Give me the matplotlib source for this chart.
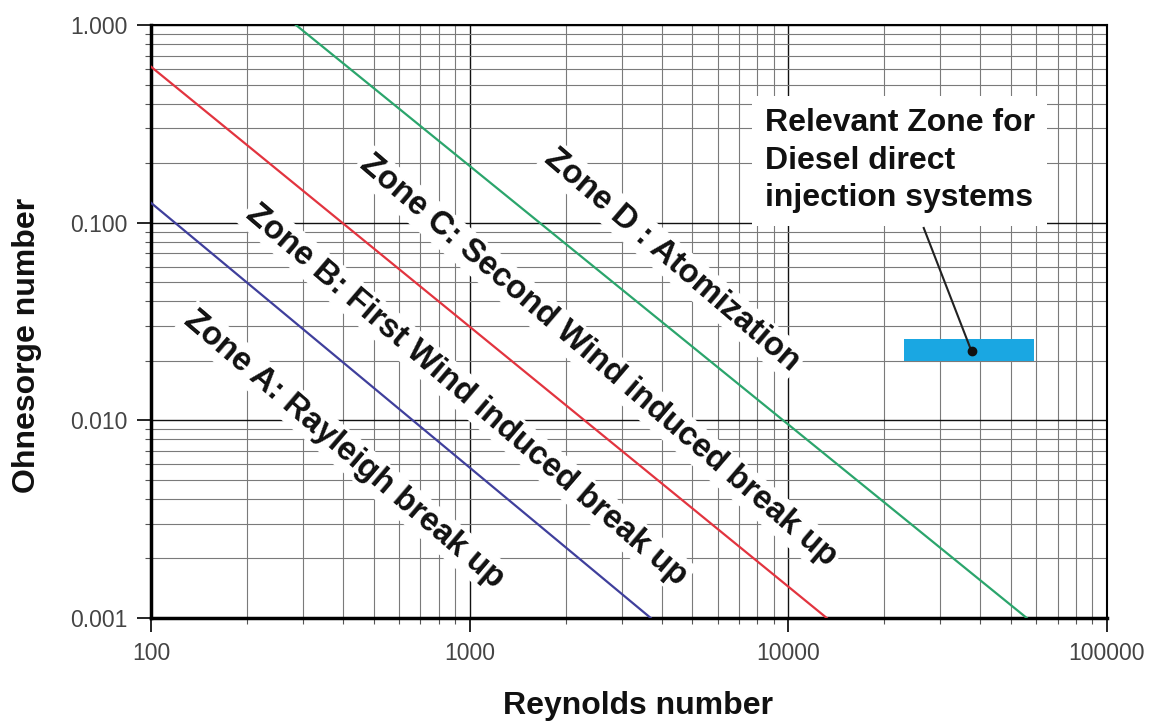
import numpy as np
import matplotlib
matplotlib.use("Agg")
import matplotlib.pyplot as plt
from matplotlib.ticker import LogLocator, NullFormatter

plt.rcParams['font.family'] = ['Liberation Sans', 'DejaVu Sans']

## Boundary lines between the break-up zones (end points)
re_a = [100, 3700]
oh_a = [0.126, 0.001]
re_b = [100, 13200]
oh_b = [0.615, 0.001]
re_c = [285, 56000]
oh_c = [1.0, 0.001]

## Diesel injection zone (box) and pointer
diesel_re = [23000, 59000]
diesel_oh = [0.0199, 0.0257]
pointer_from = (26600, 0.094)
pointer_to = (37600, 0.0223)

x_ticks = [100, 1000, 10000, 100000]
x_labels = ['100', '1000', '10000', '100000']
y_ticks = [0.001, 0.01, 0.1, 1.0]
y_labels = ['0.001', '0.010', '0.100', '1.000']

zone_labels = ['Zone A: Rayleigh break up',
               'Zone B: First Wind induced break up',
               'Zone C: Second Wind induced break up',
               'Zone D : Atomization']
zone_re = [403, 980, 2527, 4313]
zone_oh = [0.00716, 0.01345, 0.020, 0.0648]

fig = plt.figure(figsize=(11.6, 7.24), dpi=100)
ax = fig.add_axes([151/1160, 1-618/724, (1107-151)/1160, (618-25)/724])
ax.set_xscale('log')
ax.set_yscale('log')
ax.set_xlim(100, 100000)
ax.set_ylim(0.001, 1.0)

# grid
ax.xaxis.set_minor_locator(LogLocator(base=10, subs=np.arange(2, 10)))
ax.yaxis.set_minor_locator(LogLocator(base=10, subs=np.arange(2, 10)))
ax.xaxis.set_minor_formatter(NullFormatter())
ax.yaxis.set_minor_formatter(NullFormatter())
ax.grid(which='major', color='#111111', lw=1.0, zorder=0)
ax.grid(which='minor', color='#7a7a7a', lw=0.8, zorder=0)
ax.set_axisbelow(True)

ax.set_xticks(x_ticks)
ax.set_xticklabels(x_labels)
ax.set_yticks(y_ticks)
ax.set_yticklabels(y_labels)
ax.tick_params(which='major', direction='out', length=10, width=1.2,
               labelsize=16.5, labelcolor='#444444', pad=7)
ax.tick_params(which='minor', direction='out', length=4, width=0.8, color='#555555')

for side in ['left', 'bottom']:
    ax.spines[side].set_linewidth(2.5)
for side in ['top', 'right']:
    ax.spines[side].set_linewidth(1.5)

# zone boundaries
ax.plot(re_a, oh_a, color='#3f3f9c', lw=1.6, zorder=4)
ax.plot(re_b, oh_b, color='#e2343f', lw=1.6, zorder=4)
ax.plot(re_c, oh_c, color='#2ba56c', lw=1.6, zorder=4)

# zone labels
for lab, xr, yo in zip(zone_labels, zone_re, zone_oh):
    ax.text(xr, yo, lab, rotation=-40.5, rotation_mode='anchor',
            ha='center', va='center', fontsize=23.5, fontweight='bold',
            color='#111111', zorder=3,
            bbox=dict(facecolor='white', edgecolor='none', pad=2))

# diesel injection zone
ax.fill_between(diesel_re, diesel_oh[0], diesel_oh[1], color='#1aa7e2',
                lw=0, zorder=5)
ax.text(0.642, 0.86, 'Relevant Zone for\nDiesel direct\ninjection systems',
        transform=ax.transAxes, ha='left', va='top', fontsize=23,
        fontweight='bold', color='#111111', linespacing=1.33, zorder=3,
        bbox=dict(facecolor='white', edgecolor='none', pad=9))
ax.plot([pointer_from[0], pointer_to[0]], [pointer_from[1], pointer_to[1]],
        color='#222222', lw=1.5, zorder=6)
ax.plot(pointer_to[0], pointer_to[1], 'o', color='#111111', ms=6, zorder=7)

fig.text(638/1160, 1-706/724, 'Reynolds number', ha='center', va='center',
         fontsize=23, fontweight='bold', color='#111111')
fig.text(27/1160, 1-345/724, 'Ohnesorge number', ha='center', va='center',
         rotation=90, fontsize=23, fontweight='bold', color='#111111')

fig.savefig('out.png', dpi=100)
